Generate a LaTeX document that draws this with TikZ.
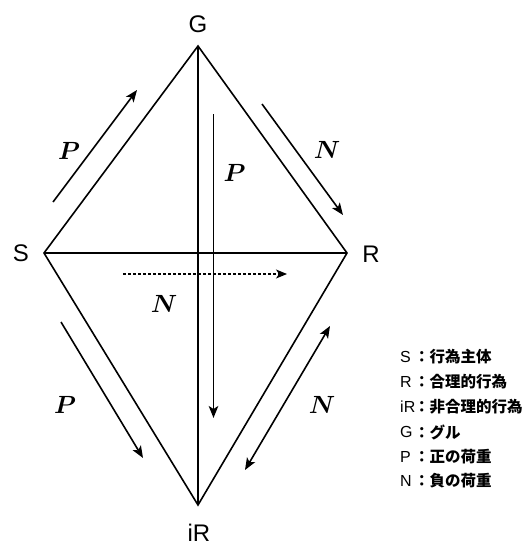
\documentclass[tikz,border=0pt]{standalone}
\usepackage{fontspec}
\setmainfont{Liberation Sans}
\newfontfamily\jpfont{Noto Sans CJK JP}
\usetikzlibrary{arrows.meta}
\begin{document}
\begin{tikzpicture}[x=1pt,y=-1pt,
  edge/.style={line width=1.6pt, line join=miter},
  arr/.style={line width=1.6pt, -{Stealth[length=12pt,width=9.5pt,inset=3pt]}},
  darr/.style={line width=1.6pt, {Stealth[length=12pt,width=9.5pt,inset=3pt]}-{Stealth[length=12pt,width=9.5pt,inset=3pt]}},
  dotarr/.style={line width=1.4pt, dash pattern=on 3pt off 2pt, -{Stealth[length=11pt,width=9pt,inset=3pt]}},
  vlabel/.style={inner sep=0pt, font=\fontsize{24}{24}\selectfont},
  wlabel/.style={inner sep=0pt, font=\fontsize{30}{30}\selectfont\boldmath},
  legkey/.style={inner sep=0pt, anchor=west, font=\fontsize{16}{16}\selectfont},
  legtxt/.style={inner sep=0pt, anchor=west, font=\jpfont\bfseries\fontsize{15.5}{16}\selectfont}]
\useasboundingbox (0,0) rectangle (531,547);
% vertices
\coordinate (G) at (198,46);
\coordinate (S) at (44,253);
\coordinate (R) at (347,253);
\coordinate (iR) at (198,505);
\draw[edge] (S) -- (G) -- (R) -- (iR) -- cycle;
\draw[edge] (S) -- (R);
\draw[edge] (G) -- (iR);
% vertex labels
\node[vlabel] (lG) at (198,24) {G};
\node[vlabel] (lS) at (21,253) {S};
\node[vlabel] (lR) at (371,254) {R};
\node[vlabel] (liR) at (199,533) {iR};
% arrows
\coordinate (a1s) at (53,202);  \coordinate (a1e) at (137,90);
\coordinate (a2s) at (213.5,114); \coordinate (a2e) at (213.5,418);
\coordinate (a3s) at (262,104); \coordinate (a3e) at (343,215);
\coordinate (a4s) at (123,274); \coordinate (a4e) at (287,274);
\coordinate (a5s) at (61,322);  \coordinate (a5e) at (143,458);
\coordinate (a6s) at (245,470); \coordinate (a6e) at (330,326);
\draw[arr] (a1s) -- (a1e);
\draw[arr] (a2s) -- (a2e);
\draw[arr] (a3s) -- (a3e);
\draw[dotarr] (a4s) -- (a4e);
\draw[arr] (a5s) -- (a5e);
\draw[darr] (a6s) -- (a6e);
% arrow labels
\node[wlabel] (p1) at (69,151) {$P$};
\node[wlabel] (p2) at (234.5,172.5) {$P$};
\node[wlabel] (n1) at (327,150) {$N$};
\node[wlabel] (n2) at (164,303.5) {$N$};
\node[wlabel] (p3) at (65,404.5) {$P$};
\node[wlabel] (n3) at (322,404.5) {$N$};
% legend
\node[legkey] (k1) at (400,357) {S};
\node[legtxt] (t1) at (414,357) {：行為主体};
\node[legkey] (k2) at (400,382) {R};
\node[legtxt] (t2) at (414,382) {：合理的行為};
\node[legkey] (k3) at (400,407) {iR};
\node[legtxt] (t3) at (414,407) {：非合理的行為};
\node[legkey] (k4) at (400,432) {G};
\node[legtxt] (t4) at (414,432) {：グル};
\node[legkey] (k5) at (400,457) {P};
\node[legtxt] (t5) at (414,457) {：正の荷重};
\node[legkey] (k6) at (400,481) {N};
\node[legtxt] (t6) at (414,481) {：負の荷重};
\end{tikzpicture}
\end{document}
